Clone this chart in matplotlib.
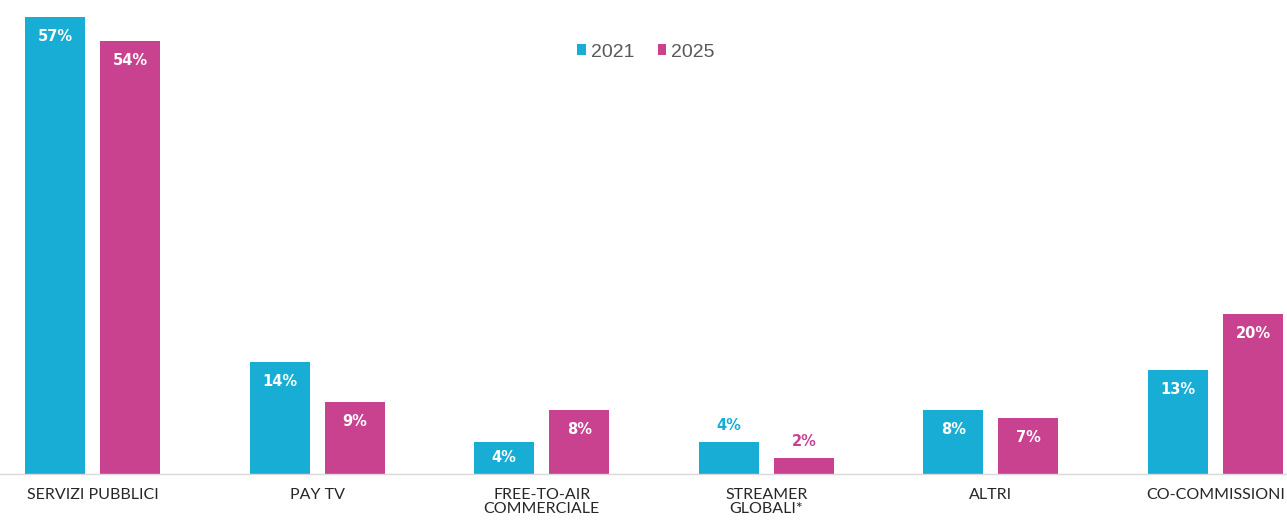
import matplotlib.pyplot as plt
import numpy as np

categories = ['SERVIZI PUBBLICI', 'PAY TV', 'FREE-TO-AIR\nCOMMERCIALE',
              'STREAMER\nGLOBALI*', 'ALTRI', 'CO-COMMISSIONI']
years = ['2021', '2025']
share_2021 = [57, 14, 4, 4, 8, 13]
share_2025 = [54, 9, 8, 2, 7, 20]

cyan = '#17ADD4'
magenta = '#C94290'

fig = plt.figure(figsize=(12.87, 5.21), dpi=100)
ax = fig.add_axes([0.0, 0.0902, 1.0, 0.9098])

x = np.arange(len(categories))
w = 0.267
off = 0.167

bars_a = ax.bar(x - off, share_2021, w, color=cyan, label=years[0])
bars_b = ax.bar(x + off, share_2025, w, color=magenta, label=years[1])

ax.set_xlim(-0.412, 5.318)
ax.set_ylim(0, 59.1)

# value labels: white inside the bars, coloured above the tiny ones
outside = {3}
for bars, vals, col in [(bars_a, share_2021, cyan), (bars_b, share_2025, magenta)]:
    for i, (b, v) in enumerate(zip(bars, vals)):
        cx = b.get_x() + b.get_width() / 2
        if i in outside:
            ax.annotate(f'{v}%', (cx, v), xytext=(0, 16), textcoords='offset pixels',
                        ha='center', va='center', color=col, fontsize=10.5,
                        fontweight='bold', family='DejaVu Sans')
        else:
            dy = -20 if v > 5 else -v * 8.02 / 2
            ax.annotate(f'{v}%', (cx, v), xytext=(0, dy), textcoords='offset pixels',
                        ha='center', va='center', color='white', fontsize=10.5,
                        fontweight='bold', family='DejaVu Sans')

for s in ['top', 'right', 'left']:
    ax.spines[s].set_visible(False)
ax.spines['bottom'].set_color('#D9D9D9')
ax.spines['bottom'].set_linewidth(1.0)
ax.set_yticks([])
ax.set_xticks(x)
ax.set_xticklabels(categories, fontsize=11.5, family='Lato', fontweight='normal',
                   color='#262626', linespacing=1.05)
ax.tick_params(axis='x', length=0, pad=10)

leg = ax.legend(loc='upper center', bbox_to_anchor=(0.502, 0.945), ncol=2, frameon=False,
                handlelength=0.45, handleheight=0.45, handletextpad=0.25,
                columnspacing=1.2, prop={'family': 'Liberation Sans', 'size': 14})
for t in leg.get_texts():
    t.set_color('#595959')

fig.savefig('out.png', dpi=100)
